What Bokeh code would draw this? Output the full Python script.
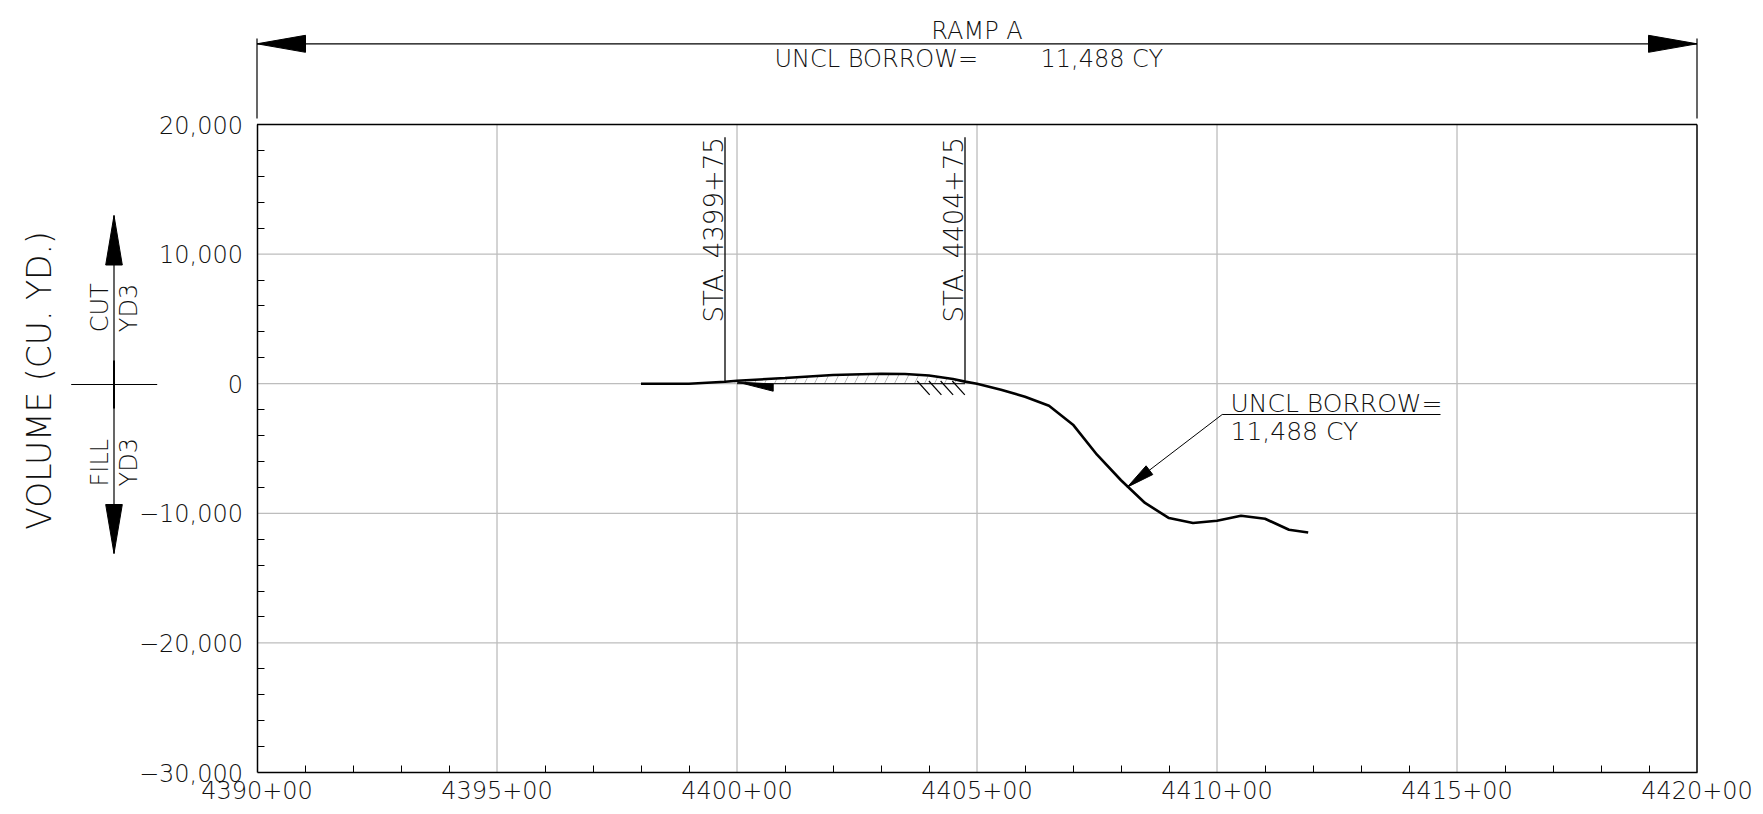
import math
from bokeh.plotting import figure
from bokeh.models import Range1d, FixedTicker, Label
from bokeh.embed import file_html
from bokeh.resources import INLINE

# ---------------- data ----------------
stations = [4398.0, 4399.0, 4399.75, 4400.0, 4401.0, 4402.0, 4403.0, 4403.5,
            4404.0, 4404.5, 4404.75, 4405.0, 4405.5, 4406.0, 4406.5, 4407.0,
            4407.5, 4408.0, 4408.5, 4409.0, 4409.5, 4410.0, 4410.5, 4411.0,
            4411.5, 4411.9]
volumes = [0, 0, 150, 230, 440, 670, 770, 750,
           630, 360, 160, 0, -460, -1000, -1700, -3160,
           -5480, -7450, -9200, -10370, -10750, -10570, -10190, -10420,
           -11270, -11488]
x_ticks = [4390, 4395, 4400, 4405, 4410, 4415, 4420]
x_tick_labels = ["4390+00", "4395+00", "4400+00", "4405+00", "4410+00", "4415+00", "4420+00"]
y_ticks = [-30000, -20000, -10000, 0, 10000, 20000]
y_tick_labels = ["\u221230,000", "\u221220,000", "\u221210,000", "0", "10,000", "20,000"]
balance_stations = [4399.75, 4404.75]
balance_labels = ["STA. 4399+75", "STA. 4404+75"]
ramp_name = "RAMP A"
borrow_label = "UNCL BORROW="
borrow_value = "11,488 CY"
y_title = "VOLUME (CU. YD.)"

# ---------------- geometry (canvas px) ----------------
W, H = 1755, 806
FL, FT, FW, FH = 256.5, 124.0, 1440.0, 648.0
X0, X1, Y0, Y1 = x_ticks[0], x_ticks[-1], y_ticks[0], y_ticks[-1]
SX = FW / (X1 - X0)          # px per station
SY = FH / (Y1 - Y0)          # px per cu. yd.
def dx(px): return X0 + (px - FL) / SX
def dy(py): return Y1 - (py - FT) / SY

FONT = "'DejaVu Sans Light', 'DejaVu Sans'"
TXT = "#111111"

p = figure(width=W, height=H, min_border=0,
           x_range=Range1d(dx(0), dx(W)), y_range=Range1d(dy(H), dy(0)),
           output_backend="svg", toolbar_location=None, title=None)
p.background_fill_color = "white"
p.border_fill_color = "white"
p.outline_line_color = None
p.grid.visible = False

# axes, pinned to the plot box
p.xaxis.fixed_location = Y0
p.yaxis.fixed_location = X0
p.xaxis.bounds = (X0, X1)
p.yaxis.bounds = (Y0, Y1)
p.xaxis.ticker = FixedTicker(ticks=x_ticks,
                             minor_ticks=[s for s in range(X0, X1 + 1) if s % 5 != 0])
p.yaxis.ticker = FixedTicker(ticks=y_ticks,
                             minor_ticks=[v for v in range(Y0, Y1 + 1, 2000) if v % 10000 != 0])
p.xaxis.major_label_overrides = dict(zip(x_ticks, x_tick_labels))
p.yaxis.major_label_overrides = dict(zip(y_ticks, y_tick_labels))
for ax in (p.xaxis, p.yaxis):
    ax.axis_line_color = "black"
    ax.axis_line_width = 1.5
    ax.major_tick_in = 0
    ax.major_tick_out = 0
    ax.minor_tick_in = 7
    ax.minor_tick_out = 0
    ax.minor_tick_line_color = "black"
    ax.minor_tick_line_width = 1
    ax.major_label_text_font = FONT
    ax.major_label_text_font_size = "24px"
    ax.major_label_text_color = TXT
p.xaxis.major_label_standoff = 8
p.yaxis.major_label_standoff = 14

# grid lines
vx = x_ticks[1:-1]
p.segment(x0=vx, y0=[Y0] * len(vx), x1=vx, y1=[Y1] * len(vx),
          line_color="#a8a8a8", line_width=1)
hy_ = y_ticks[1:-1]
p.segment(x0=[X0] * len(hy_), y0=hy_, x1=[X1] * len(hy_), y1=hy_,
          line_color="#bdbdbd", line_width=1.3)
# top and right border
p.segment(x0=[X0, X1], y0=[Y1, Y0], x1=[X1, X1], y1=[Y1, Y1],
          line_color="black", line_width=1.5)

# hatch between curve and balance line
hx = [s for s in stations if balance_stations[0] <= s <= balance_stations[1]]
hv = [volumes[stations.index(s)] for s in hx]
p.varea(x=hx, y1=[0] * len(hx), y2=hv, fill_alpha=0, hatch_pattern="/",
        hatch_color="#b8b8b8", hatch_scale=20, hatch_weight=1)

# balance line
p.segment(x0=[balance_stations[0] + 0.25], y0=[0], x1=[balance_stations[1]], y1=[0],
          line_color="black", line_width=1)

# mass haul curve
p.line(stations, volumes, line_color="black", line_width=2.6)

# helpers for annotation geometry (canvas px)
def line(px0, py0, px1, py1, w=1.0, color="black"):
    p.segment(x0=[dx(px0)], y0=[dy(py0)], x1=[dx(px1)], y1=[dy(py1)],
              line_color=color, line_width=w)

def head(tx, ty, bx, by, hw):
    ux, uy = bx - tx, by - ty
    L = math.hypot(ux, uy)
    nx, ny = -uy / L * hw, ux / L * hw
    xs = [tx, bx + nx, bx - nx]
    ys = [ty, by + ny, by - ny]
    p.patch([dx(x) for x in xs], [dy(y) for y in ys], fill_color="black",
            line_color="black", line_width=1)

def label(text, px, py, size, align="left", angle=0.0):
    # (px, py) is the wanted baseline point; compensate Bokeh's baseline offset
    shift = 0.346 * size
    if angle == 0.0:
        py -= shift
    else:
        px -= shift
    p.add_layout(Label(x=dx(px), y=dy(py), text=text, text_font=FONT,
                       text_font_size=f"{size}px", text_align=align,
                       text_baseline="alphabetic", angle=angle, text_color=TXT))

# station lines and labels
top_py = 136.7
for s, lab in zip(balance_stations, balance_labels):
    v = volumes[stations.index(s)]
    p.segment(x0=[s], y0=[dy(top_py)], x1=[s], y1=[v], line_color="black", line_width=1.3)
    sx = FL + (s - X0) * SX
    label(lab, sx - 2.0, top_py, 26, align="right", angle=math.pi / 2)

# small left arrowhead on the balance line
p.patch([dx(736.7), dx(772.7), dx(772.7)], [dy(381.5), dy(383.5), dy(390.7)],
        fill_color="black", line_color="black", line_width=1)

# short hatch ticks below balance line
for k in range(4):
    x0 = 916.7 + k * 11.7
    line(x0, 380.5, x0 + 12.5, 394.3, w=1.2)

# callout
line(1221.7, 414, 1440, 414, w=1.2)
line(1221.7, 414, 1126.7, 486.7, w=1.0)
ang = math.atan2(414 - 486.7, 1221.7 - 1126.7)
head(1126.7, 486.7, 1126.7 + 28 * math.cos(ang), 486.7 + 28 * math.sin(ang), 5.5)
label(borrow_label, 1230, 411.2, 25)
label(borrow_value, 1230, 440, 25)

# top dimension
line(FL, 43.3, FL + FW, 43.3, w=1.3)
line(FL, 38, FL, 118, w=1.2)
line(FL + FW, 38, FL + FW, 118, w=1.2)
head(FL, 43.3, FL + 48.5, 43.3, 8.5)
head(FL + FW, 43.3, FL + FW - 48.5, 43.3, 8.5)
label(ramp_name, FL + FW / 2, 39.3, 24, align="center")
label(borrow_label, 774, 67, 24)
label(borrow_value, 1040, 67, 24)

# y title
label(y_title, 50, 380, 33, align="center", angle=math.pi / 2)

# CUT / FILL indicator
line(113.5, 215, 113.5, 553, w=1.2)
line(113.5, 360, 113.5, 408, w=2.0)
line(70.7, 384, 156.7, 384, w=1.2)
head(113.5, 215, 113.5, 264.5, 8.3)
head(113.5, 553, 113.5, 504, 8.3)
label("CUT", 108.3, 331.7, 24, angle=math.pi / 2)
label("YD3", 137.3, 331.7, 24, angle=math.pi / 2)
label("FILL", 108.3, 486, 24, angle=math.pi / 2)
label("YD3", 137.3, 486, 24, angle=math.pi / 2)

open("out.html", "w").write(file_html(p, INLINE))
